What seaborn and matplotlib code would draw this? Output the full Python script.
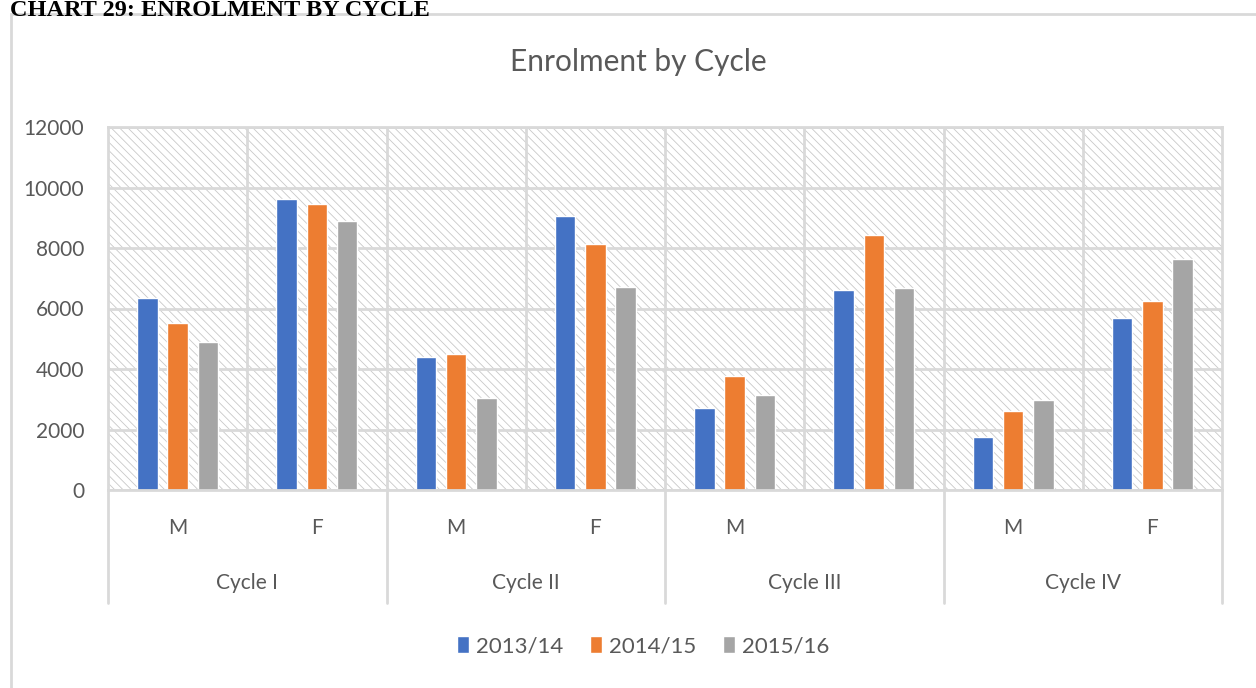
import numpy as np
import pandas as pd
import seaborn as sns
import matplotlib.pyplot as plt
from matplotlib.patches import Rectangle
import matplotlib.transforms as mtransforms

# data
cycles = ['Cycle I', 'Cycle II', 'Cycle III', 'Cycle IV']
genders = ['M', 'F']
tick_labels = ['M', 'F', 'M', 'F', 'M', '', 'M', 'F']
years = ['2013/14', '2014/15', '2015/16']
vals_2013 = [6360, 9620, 4400, 9060, 2720, 6620, 1740, 5690]
vals_2014 = [5530, 9470, 4500, 8130, 3770, 8430, 2620, 6260]
vals_2015 = [4890, 8890, 3040, 6710, 3140, 6670, 2975, 7650]
colors = ['#4472C4', '#ED7D31', '#A5A5A5']

keys = [f'{c} {g}' for c in cycles for g in genders]
df = pd.DataFrame({
    'key': keys * 3,
    'year': np.repeat(years, len(keys)),
    'value': vals_2013 + vals_2014 + vals_2015,
})

sns.set_theme(style='white')
plt.rcParams['font.family'] = ['Lato', 'DejaVu Sans']
plt.rcParams['hatch.linewidth'] = 0.6
grey_txt = '#595959'
grid_c = '#d9d9d9'

fig = plt.figure(figsize=(12.56, 6.88), dpi=100)
ax = fig.add_axes([108 / 1256, 1 - 490 / 688, (1222 - 108) / 1256, (490 - 127) / 688])

# chart border + header
fig.patches.append(Rectangle((11 / 1256, -0.02), 1.1, 1 - 14 / 688 + 0.02,
                             transform=fig.transFigure, fill=False,
                             edgecolor=grid_c, linewidth=2))
fig.text(10 / 1256, 1 - 16 / 688, 'CHART 29: ENROLMENT BY CYCLE',
         fontfamily='Liberation Serif', fontweight='bold', fontsize=17.5,
         va='baseline', ha='left', color='black')

# hatched plot area
ax.add_patch(Rectangle((0, 0), 1, 1, transform=ax.transAxes, facecolor='white',
                       hatch='\\\\\\\\', edgecolor='#c8c8c8', linewidth=0, zorder=0))

sns.barplot(data=df, x='key', y='value', hue='year', order=keys, hue_order=years,
            palette=colors, saturation=1, width=0.65, gap=0.32, ax=ax, zorder=2)

ax.set_xlim(-0.5, 7.5)
ax.set_ylim(0, 12000)
ax.set_yticks(np.arange(0, 12001, 2000))
ax.set_xticks(range(8))
ax.set_xticklabels(tick_labels)
ax.set_xticks(np.arange(0.5, 7, 1), minor=True)
ax.set_xlabel('')
ax.set_ylabel('')
ax.set_axisbelow(True)
ax.grid(axis='y', color=grid_c, linewidth=2)
ax.grid(axis='x', which='minor', color=grid_c, linewidth=2)
ax.tick_params(axis='x', which='both', length=0, pad=20, labelsize=15, labelcolor=grey_txt)
ax.tick_params(axis='y', length=0, pad=17, labelsize=15, labelcolor=grey_txt)
for s in ax.spines.values():
    s.set_color(grid_c)
    s.set_linewidth(2)

# cycle separators and labels below the axis
trans = mtransforms.blended_transform_factory(ax.transData, ax.transAxes)
for xb in [-0.5, 1.5, 3.5, 5.5, 7.5]:
    ax.plot([xb, xb], [0, -113 / 363], transform=trans, color=grid_c,
            linewidth=2, clip_on=False)
for i, c in enumerate(cycles):
    ax.text(2 * i + 0.5, -93 / 363, c, transform=trans, ha='center', va='center',
            fontsize=15, color=grey_txt)

fig.text(638 / 1256, 1 - 62 / 688, 'Enrolment by Cycle', ha='center', va='center',
         fontsize=21.5, color=grey_txt)

handles, labels = ax.get_legend_handles_labels()
ax.legend_.remove()
fig.legend(handles, labels, loc='center', bbox_to_anchor=(643 / 1256, 1 - 646 / 688),
           ncol=3, frameon=False, fontsize=16, handlelength=0.55, handleheight=0.8,
           handletextpad=0.3, columnspacing=1.2, labelcolor=grey_txt)

plt.savefig('out.png', dpi=100, facecolor='white')
